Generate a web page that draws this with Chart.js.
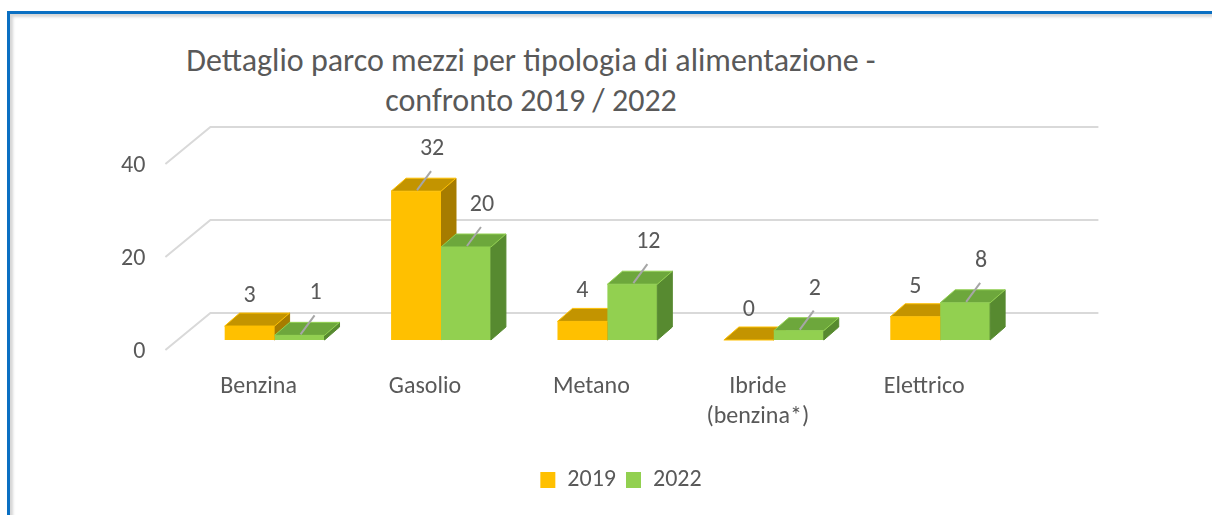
<!DOCTYPE html>
<html lang="it">
<head>
<meta charset="utf-8">
<title>Parco mezzi</title>
<script src="https://cdn.jsdelivr.net/npm/chart.js@4.4.1/dist/chart.umd.min.js"></script>
<style>
  html, body { margin: 0; padding: 0; background: #fff; overflow: hidden; }
  body { width: 1212px; height: 515px; position: relative;
         font-family: Carlito, Lato, sans-serif; }
  #frame { position: absolute; left: 7px; top: 11px; width: 1230px; height: 530px;
           border-top: 3px solid #0a6fc2; border-left: 3px solid #0a6fc2;
           box-shadow: inset 3px 3px 3px #d6d6d6; }
  #title { position: absolute; left: 131px; top: 41px; width: 800px; text-align: center;
           font-size: 32px; line-height: 40px; color: #595959; }
  #myChart { position: absolute; left: 0; top: 0; }
</style>
</head>
<body>
<div id="frame"></div>
<div id="title">Dettaglio parco mezzi per tipologia di alimentazione -<br>confronto 2019 / 2022</div>
<canvas id="myChart" width="1212" height="515"></canvas>
<script>
// data
const categories = ["Benzina", "Gasolio", "Metano", ["Ibride", "(benzina*)"], "Elettrico"];
const seriesNames = ["2019", "2022"];
const values2019 = [3, 32, 4, 0, 5];
const values2022 = [1, 20, 12, 2, 8];
const yTicks = [0, 20, 40];

const fontFamily = "Carlito, Lato, sans-serif";
const textColor = "#595959";

// colours of the three visible faces of each bar
const frontColors = ["#FFC000", "#92D050"];
const topColors = ["#C39400", "#6DA73C"];
const sideColors = ["#A67C00", "#578A30"];

// oblique offset of the bar depth and of the back wall
const depthX = 15;
const depthY = -13;
const wallX = 19;
const wallY = -27;

function polygon(ctx, points, fill, stroke) {
  ctx.beginPath();
  ctx.moveTo(points[0][0], points[0][1]);
  for (let i = 1; i < points.length; i++) {
    ctx.lineTo(points[i][0], points[i][1]);
  }
  ctx.closePath();
  ctx.fillStyle = fill;
  ctx.fill();
  ctx.strokeStyle = stroke;
  ctx.lineWidth = 1;
  ctx.stroke();
}

function drawBarFaces(chart, datasetIndex) {
  const ctx = chart.ctx;
  const meta = chart.getDatasetMeta(datasetIndex);
  meta.data.forEach((bar) => {
    const left = bar.x - bar.width / 2;
    const right = bar.x + bar.width / 2;
    const top = bar.y;
    const base = bar.base;
    polygon(ctx, [[right, top], [right + depthX, top + depthY], [right + depthX, base + depthY], [right, base]],
      sideColors[datasetIndex], sideColors[datasetIndex]);
    polygon(ctx, [[left, top], [right, top], [right + depthX, top + depthY], [left + depthX, top + depthY]],
      topColors[datasetIndex], frontColors[datasetIndex]);
  });
}

function drawWall(chart) {
  const ctx = chart.ctx;
  const area = chart.chartArea;
  const yScale = chart.scales.y;
  ctx.save();
  ctx.strokeStyle = "#D9D9D9";
  ctx.lineWidth = 2;
  yTicks.forEach((v) => {
    const y = yScale.getPixelForValue(v);
    ctx.beginPath();
    ctx.moveTo(area.left - 26, y + 10);
    ctx.lineTo(area.left + wallX, y + wallY);
    ctx.lineTo(area.right + 75, y + wallY);
    ctx.stroke();
  });
  ctx.restore();
}

function drawValueLabels(chart) {
  const ctx = chart.ctx;
  ctx.save();
  ctx.font = "24px " + fontFamily;
  ctx.fillStyle = textColor;
  ctx.textAlign = "center";
  ctx.textBaseline = "middle";
  chart.data.datasets.forEach((dataset, di) => {
    chart.getDatasetMeta(di).data.forEach((bar, i) => {
      const value = dataset.data[i];
      if (di === 1 || value > 20) {
        ctx.strokeStyle = "#A6A6A6";
        ctx.lineWidth = 2;
        ctx.beginPath();
        ctx.moveTo(bar.x + 1, bar.y - 1);
        ctx.lineTo(bar.x + 15, bar.y - 20);
        ctx.stroke();
        ctx.fillText(String(value), bar.x + 16, bar.y - 42);
      } else {
        ctx.fillText(String(value), bar.x, bar.y - 30);
      }
    });
  });
  ctx.restore();
}

const bars3d = {
  id: "bars3d",
  beforeDatasetsDraw(chart) {
    drawWall(chart);
    drawBarFaces(chart, 0);
  },
  afterDatasetsDraw(chart) {
    drawBarFaces(chart, 1);
    drawValueLabels(chart);
  },
};

function chart() {
  Chart.defaults.font.family = fontFamily;
  Chart.defaults.color = textColor;
  const ctx = document.getElementById("myChart");
  new Chart(ctx, {
    type: "bar",
    data: {
      labels: categories,
      datasets: [
        { label: seriesNames[0], data: values2019, backgroundColor: frontColors[0], borderWidth: 0 },
        { label: seriesNames[1], data: values2022, backgroundColor: frontColors[1], borderWidth: 0 },
      ],
    },
    options: returnOptions(),
    plugins: [bars3d],
  });
}

function returnOptions() {
  return {
    responsive: false,
    animation: false,
    datasets: { bar: { categoryPercentage: 0.6, barPercentage: 1.0 } },
    layout: { padding: { top: 154, left: 30, right: 0, bottom: 13 } },
    scales: {
      x: {
        grid: { display: false, drawTicks: false },
        border: { display: false },
        ticks: { padding: 32, labelOffset: -16, maxRotation: 0, autoSkip: false,
                 font: { size: 24, lineHeight: 1.25 } },
        afterFit: (axis) => { axis.height = 118; },
      },
      y: {
        min: 0,
        max: 40,
        grid: { display: false, drawTicks: false },
        border: { display: false },
        afterBuildTicks: (axis) => { axis.ticks = yTicks.map((v) => ({ value: v })); },
        ticks: { padding: 46, labelOffset: 12, font: { size: 24 } },
        afterFit: (axis) => { axis.width = 161.4; },
      },
      y2: {
        position: "right",
        display: true,
        grid: { display: false, drawTicks: false },
        border: { display: false },
        ticks: { display: false },
        afterFit: (axis) => { axis.width = 188.6; },
      },
    },
    plugins: {
      legend: {
        position: "bottom",
        labels: { boxWidth: 15, boxHeight: 16, padding: 10, font: { size: 24 } },
      },
      tooltip: { enabled: false },
    },
  };
}

chart();
</script>
</body>
</html>
